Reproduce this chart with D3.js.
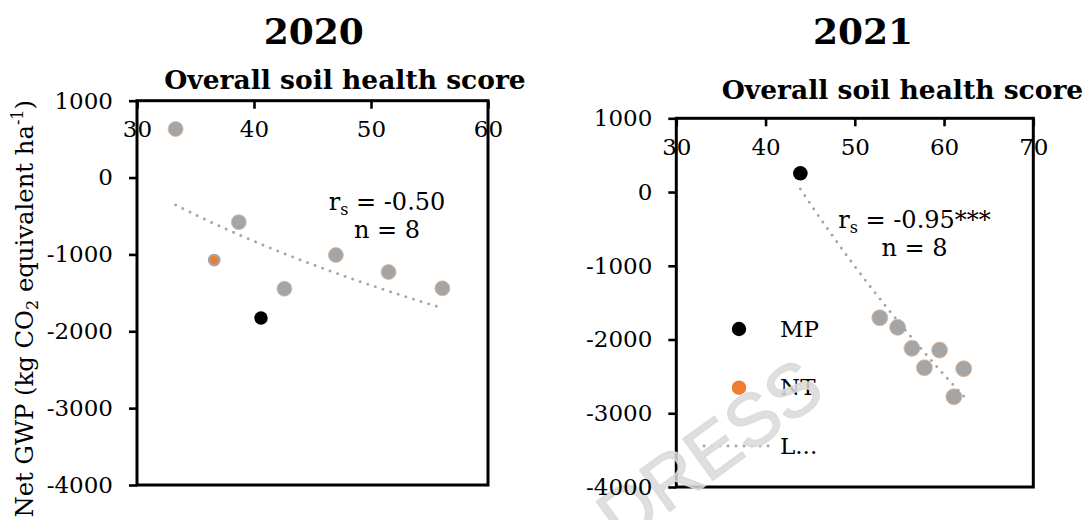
<!DOCTYPE html>
<html>
<head>
<meta charset="utf-8">
<script src="https://cdn.jsdelivr.net/npm/d3@7"></script>
<style>
  body { margin: 0; background: #fff; }
  svg { display: block; }
  text { font-family: "DejaVu Serif", serif; fill: #000; }
</style>
</head>
<body>
<svg id="chart" width="1086" height="520"></svg>
<script>
// Tick values
const scoreTicks2020 = [30, 40, 50, 60];
const scoreTicks2021 = [30, 40, 50, 60, 70];
const gwpTicks = [1000, 0, -1000, -2000, -3000, -4000];

// 2020 plots: soil health score vs net GWP
const score2020 = [33.3, 36.6, 38.7, 40.6, 42.6, 47.0, 51.5, 56.1];
const gwp2020   = [632, -1073, -580, -1827, -1446, -1008, -1229, -1441];
const system2020 = ["other", "NT", "other", "MP", "other", "other", "other", "other"];

// 2021 plots
const score2021 = [43.9, 52.8, 54.8, 56.4, 57.8, 59.5, 61.1, 62.2];
const gwp2021   = [254, -1705, -1835, -2120, -2383, -2143, -2776, -2396];
const system2021 = ["MP", "other", "other", "other", "other", "other", "other", "other"];

// Spearman statistics shown on each panel
const rsLabels = ["-0.50", "-0.95***"];
const nLabels = [8, 8];

const yearLabels = ["2020", "2021"];
const legendLabels = ["MP", "NT", "L..."];

const colors = { MP: "#000000", NT: "#ed7d31", other: "#a5a5a5" };

const svg = d3.select("#chart");
const baseLayer = svg.append("g");
const stampLayer = svg.append("g");
const topLayer = svg.append("g");

const panels = [
  { year: yearLabels[0], scores: score2020, gwp: gwp2020, sys: system2020, ticks: scoreTicks2020,
    xr: [137, 488], yr: [485, 100.7], titleX: 313.8, axisTitleX: 345, axisTitleY: 89.3,
    statX: 387, statY: 210, rs: rsLabels[0], n: nLabels[0], rOther: 7.5, rMP: 6.7 },
  { year: yearLabels[1], scores: score2021, gwp: gwp2021, sys: system2021, ticks: scoreTicks2021,
    xr: [676.3, 1033.3], yr: [487, 118.3], titleX: 863, axisTitleX: 902.5, axisTitleY: 99.3,
    statX: 914.5, statY: 228, rs: rsLabels[1], n: nLabels[1], rOther: 8, rMP: 7.3 }
];

function logFit(xs, ys) {
  const lx = xs.map(Math.log);
  const mx = d3.mean(lx), my = d3.mean(ys);
  const b = d3.sum(lx, (v, i) => (v - mx) * (ys[i] - my)) / d3.sum(lx, v => (v - mx) ** 2);
  const a = my - b * mx;
  return x => a + b * Math.log(x);
}

// Plain integers with an ASCII hyphen for negatives
const plain = d => String(d);

panels.forEach(p => {
  const x = d3.scaleLinear().domain(d3.extent(p.ticks)).range(p.xr);
  const y = d3.scaleLinear().domain([-4000, 1000]).range(p.yr);
  const g = baseLayer.append("g");

  // Year title
  g.append("text")
    .attr("x", p.titleX).attr("y", 44.3)
    .attr("text-anchor", "middle")
    .style("font-weight", "bold").style("font-size", "36px")
    .text(p.year);

  // X axis title
  g.append("text")
    .attr("x", p.axisTitleX).attr("y", p.axisTitleY)
    .attr("text-anchor", "middle")
    .style("font-weight", "bold").style("font-size", "26.5px")
    .text("Overall soil health score");

  // X axis along the top edge, ticks pointing inward
  const xAxis = g.append("g")
    .attr("transform", `translate(0,${p.yr[1]})`)
    .call(d3.axisBottom(x).tickValues(p.ticks).tickFormat(plain)
      .tickSize(8).tickPadding(12).tickSizeOuter(0));
  xAxis.select(".domain").remove();
  xAxis.selectAll("line").attr("stroke", "#000").attr("stroke-width", 2.6);
  xAxis.selectAll("text").style("font-family", "'DejaVu Serif', serif").style("font-size", "23px").attr("fill", "#000");

  // Y axis on the left (kept above the watermark)
  const yAxis = topLayer.append("g")
    .attr("transform", `translate(${p.xr[0]},0)`)
    .call(d3.axisLeft(y).tickValues(gwpTicks).tickFormat(plain)
      .tickSize(8).tickPadding(16).tickSizeOuter(0));
  yAxis.select(".domain").remove();
  yAxis.selectAll("line").attr("stroke", "#000").attr("stroke-width", 2.6);
  yAxis.selectAll("text").style("font-family", "'DejaVu Serif', serif").style("font-size", "23px").attr("fill", "#000");

  // Plot frame
  g.append("rect")
    .attr("x", p.xr[0]).attr("y", p.yr[1])
    .attr("width", p.xr[1] - p.xr[0]).attr("height", p.yr[0] - p.yr[1])
    .attr("fill", "none").attr("stroke", "#000").attr("stroke-width", 3);

  // Points: grey first, then NT and MP
  const pts = p.scores.map((s, i) => ({ s, v: p.gwp[i], sys: p.sys[i] }));
  const order = { other: 0, NT: 1, MP: 2 };
  pts.sort((a, b) => order[a.sys] - order[b.sys]);
  g.selectAll("circle.pt").data(pts).join("circle")
    .attr("class", "pt")
    .attr("cx", d => x(d.s)).attr("cy", d => y(d.v))
    .attr("r", d => d.sys === "MP" ? p.rMP : d.sys === "NT" ? 5.2 : p.rOther)
    .attr("fill", d => colors[d.sys])
    .attr("stroke", d => d.sys === "NT" ? "#a5a5a5" : d.sys === "other" ? "#e2b999" : "none")
    .attr("stroke-width", d => d.sys === "NT" ? 2.4 : 0.8);

  // Logarithmic trendline through all points
  const f = logFit(p.scores, p.gwp);
  const [x0, x1] = d3.extent(p.scores);
  const xs = d3.range(0, 61).map(k => x0 + (x1 - x0) * k / 60);
  g.append("path")
    .attr("d", d3.line().x(d => x(d)).y(d => y(f(d)))(xs))
    .attr("fill", "none").attr("stroke", "#a5a5a5")
    .attr("stroke-width", 2.8).attr("stroke-linecap", "round")
    .attr("stroke-dasharray", "0.1 7.9");

  // Spearman statistics
  const st = g.append("text")
    .attr("x", p.statX).attr("y", p.statY)
    .attr("text-anchor", "middle").style("font-size", "24px");
  st.append("tspan").text("r");
  st.append("tspan").attr("dy", 5).style("font-size", "16px").text("s");
  st.append("tspan").attr("dy", -5).text(" = " + p.rs);
  g.append("text")
    .attr("x", p.statX).attr("y", p.statY + 28)
    .attr("text-anchor", "middle").style("font-size", "24px")
    .text("n = " + p.n);
});

// Y axis title (shared, left side)
const yt = baseLayer.append("text")
  .attr("transform", "translate(32.7,100) rotate(-90)")
  .attr("text-anchor", "end")
  .style("font-size", "24.3px");
yt.append("tspan").text("Net GWP (kg CO");
yt.append("tspan").attr("dy", 5).style("font-size", "16px").text("2");
yt.append("tspan").attr("dy", -5).text(" equivalent ha");
yt.append("tspan").attr("dy", -10).style("font-size", "16px").text("-1");
yt.append("tspan").attr("dy", 10).text(")");

// Legend inside the 2021 panel
const legend = baseLayer.append("g");
const legendRows = [
  { label: legendLabels[0], type: "dot", color: colors.MP, y: 329 },
  { label: legendLabels[1], type: "dot", color: colors.NT, y: 387.7 },
  { label: legendLabels[2], type: "line", color: colors.other, y: 446 }
];
legendRows.forEach(r => {
  if (r.type === "dot") {
    legend.append("circle").attr("cx", 739).attr("cy", r.y).attr("r", 7.2).attr("fill", r.color);
  } else {
    legend.append("line").attr("x1", 704).attr("x2", 773).attr("y1", r.y).attr("y2", r.y)
      .attr("stroke", r.color).attr("stroke-width", 2.8)
      .attr("stroke-linecap", "round").attr("stroke-dasharray", "0.1 7.9");
  }
  legend.append("text").attr("x", 780).attr("y", r.y + 7.5)
    .style("font-size", "23px").text(r.label);
});

// Watermark stamped over the right panel
stampLayer.append("text")
  .attr("transform", "translate(709,450) rotate(-36)")
  .attr("text-anchor", "middle")
  .attr("dy", "0.36em")
  .style("font-family", "'Liberation Sans', Arial, sans-serif")
  .style("font-size", "74px")
  .style("fill", "#d9d9d9")
  .style("fill-opacity", 0.85)
  .style("stroke", "#d9d9d9")
  .style("stroke-opacity", 0.85)
  .style("stroke-width", 1.6)
  .text("DRESS");
</script>
</body>
</html>
